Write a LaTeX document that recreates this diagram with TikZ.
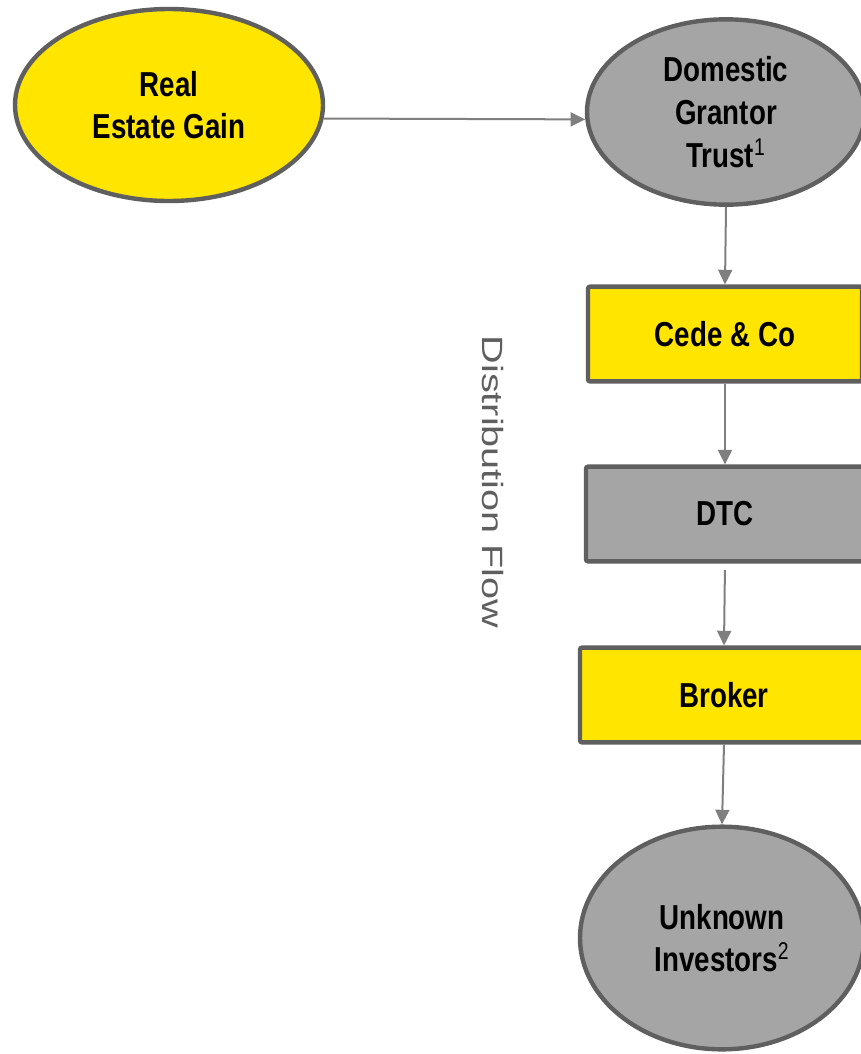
\documentclass[tikz,border=0pt]{standalone}
\usepackage{fontspec}
\setmainfont[FakeStretch=0.8]{Liberation Sans}
\newfontfamily\flowfont[FakeStretch=1.35]{Liberation Sans}
\usetikzlibrary{arrows.meta,shapes.geometric}

\definecolor{boxyellow}{HTML}{FFE500}
\definecolor{boxgray}{HTML}{A5A5A5}
\definecolor{edgegray}{HTML}{5F5F5F}
\definecolor{arrowgray}{HTML}{7F7F7F}
\definecolor{flowgray}{HTML}{5F5F5F}

\begin{document}
\begin{tikzpicture}[x=0.75pt, y=-0.75pt,
      font=\fontsize{26}{32}\selectfont\bfseries,
      entity/.style={ellipse, draw=edgegray, line width=3.3pt,
        align=center, inner sep=0pt},
      account/.style={rectangle, draw=edgegray, line width=3.3pt,
        rounded corners=1.5pt, align=center, inner sep=0pt,
        minimum height=71pt},
      flow/.style={-{Triangle[length=11pt,width=10.5pt]},
        line width=1.5pt, draw=arrowgray}
    ]
    \useasboundingbox (0,0) rectangle (861,1054);

    \node[entity, fill=boxyellow, minimum width=231pt, minimum height=144pt]
      (realgain) at (169,105) {Real\\Estate Gain};
    \node[entity, fill=boxgray, minimum width=208.5pt, minimum height=139pt]
      (trust) at (726,112) {Domestic\\Grantor\\Trust\textsuperscript{\mdseries 1}};

    \node[account, fill=boxyellow, minimum width=205.5pt] (cede) at (725,334) {Cede \& Co};
    \node[account, fill=boxgray, minimum width=208.5pt] (dtc) at (725,514) {DTC};
    \node[account, fill=boxyellow, minimum width=216pt] (broker) at (724,695) {Broker};

    \node[entity, fill=boxgray, minimum width=213pt, minimum height=167pt]
      (investors) at (722,938) {Unknown\\Investors\textsuperscript{\mdseries 2}};

    \node[rotate=-90, text=flowgray, inner sep=0pt,
      font=\flowfont\fontsize{22}{26}\selectfont] (flowlabel) at (493,482) {Distribution Flow};

    \draw[flow] (realgain.-5) -- (trust.183);
    \draw[flow] (trust.south) -- (cede.north);
    \draw[flow] (cede.south) -- (dtc.north);
    \draw[flow, shorten <=5pt] (dtc.south) -- (broker.north);
    \draw[flow] (broker.south) -- (investors.north);
  \end{tikzpicture}
\end{document}
